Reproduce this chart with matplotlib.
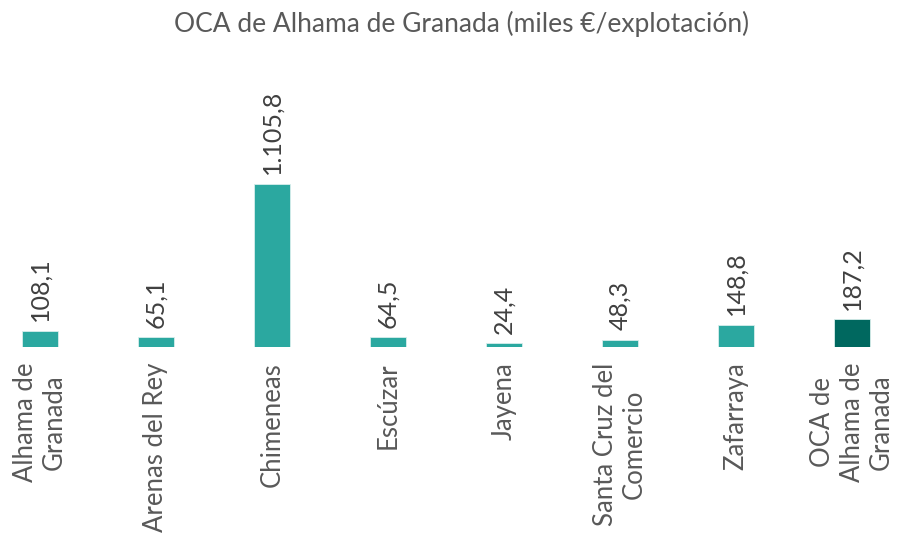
import matplotlib.pyplot as plt
import numpy as np

plt.rcParams['font.family'] = ['Lato', 'DejaVu Sans']

categorias = ["Alhama de\nGranada", "Arenas del Rey", "Chimeneas", "Escúzar",
              "Jayena", "Santa Cruz del\nComercio", "Zafarraya",
              "OCA de\nAlhama de\nGranada"]
valores = [108.1, 65.1, 1105.8, 64.5, 24.4, 48.3, 148.8, 187.2]
etiquetas = ["108,1", "65,1", "1.105,8", "64,5", "24,4", "48,3", "148,8", "187,2"]
titulo = "OCA de Alhama de Granada (miles €/explotación)"

COLOR_MUNI = "#2BA8A0"
COLOR_OCA = "#00685F"
colores = [COLOR_MUNI] * (len(valores) - 1) + [COLOR_OCA]

fig = plt.figure(figsize=(9.02, 5.39), dpi=100)
ax = fig.add_axes([0, 1 - 347 / 539, 1, 297 / 539])

x = np.arange(len(categorias))
ax.bar(x, valores, width=0.31, color=colores, edgecolor="#d8eeec", linewidth=0.6)

for xi, v, et in zip(x, valores, etiquetas):
    ax.annotate(et, (xi, v), xytext=(0, 7), textcoords="offset points",
                rotation=90, ha="center", va="bottom", fontsize=18, color="#404040")

ax.set_xlim(-40 / 116, 7 + 50 / 116)
ax.set_ylim(0, 2015)
ax.set_xticks(x)
ax.set_xticklabels(categorias, rotation=90, ha="center", va="top",
                   fontsize=18.5, color="#595959", multialignment="center")
ax.tick_params(axis="x", length=0, pad=11)
ax.set_yticks([])
for s in ax.spines.values():
    s.set_visible(False)

fig.text(462 / 902, 1 - 24 / 539, titulo, ha="center", va="center",
         fontsize=19, color="#595959")

plt.savefig("out.png", dpi=100)
